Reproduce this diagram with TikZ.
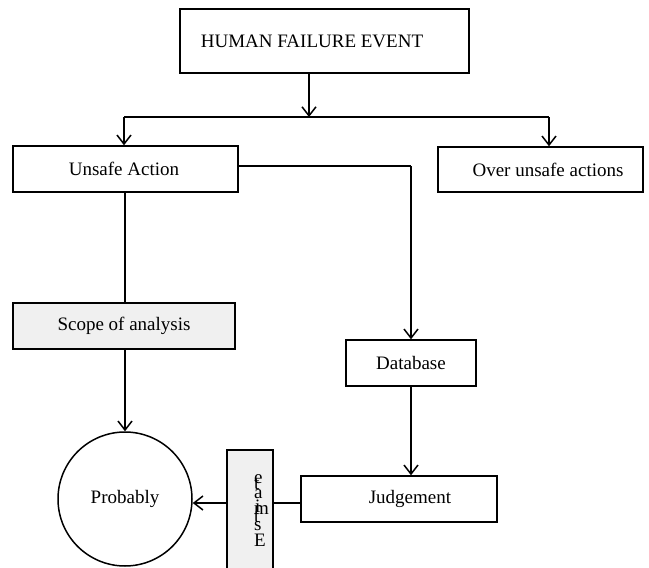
\documentclass[tikz,border=0pt]{standalone}
\usepackage{fontspec}
\setmainfont{Liberation Serif}
\usetikzlibrary{arrows.meta}
\begin{document}
\begin{tikzpicture}[x=1pt,y=-1pt,
  box/.style={draw, line width=1.5pt, rectangle, inner sep=0pt},
  gbox/.style={box, fill=black!6},
  txt/.style={font=\fontsize{19}{22}\selectfont, inner sep=0pt},
  ltr/.style={font=\fontsize{19}{19}\selectfont, inner sep=0pt, anchor=base west},
  ln/.style={line width=1.5pt},
  arr/.style={line width=1.5pt, -{Straight Barb[length=9pt,width=14pt,line width=1.5pt]}}]
\useasboundingbox (0,0) rectangle (649,568);
% boxes
\node[box, minimum width=289pt, minimum height=64pt] (hfe) at (324.5,41) {};
\node[txt] (hfet) at (312,41) {HUMAN FAILURE EVENT};
\node[box, minimum width=225pt, minimum height=46pt] (unsafe) at (125.5,169) {};
\node[txt] (unsafet) at (124,169) {Unsafe Action};
\node[box, minimum width=205pt, minimum height=45pt] (over) at (540.5,169.5) {};
\node[txt] (overt) at (548,169.5) {Over unsafe actions};
\node[gbox, minimum width=222pt, minimum height=46pt] (scope) at (124,326) {};
\node[txt] (scopet) at (124,326) {Scope of analysis};
\node[box, minimum width=130pt, minimum height=46pt] (db) at (411,363) {};
\node[txt] (dbt) at (411,363) {Database};
\node[box, minimum width=196pt, minimum height=46pt] (judg) at (399,499) {};
\node[txt] (judgt) at (410,499) {Judgement};
\node[gbox, minimum width=46pt, minimum height=122pt] (est) at (250,511) {};
\node[box, circle, minimum size=134pt] (circ) at (125,499) {};
\node[txt] (circt) at (125,499) {Probably};
% stacked letters of Estimate (overlapping, as printed)
\node[ltr] (l1) at (254,483) {e};
\node[ltr] (l2) at (254,489) {t};
\node[ltr] (l3) at (254,498) {a};
\node[ltr] (l4) at (254,514) {m};
\node[ltr] (l5) at (255,512) {i};
\node[ltr] (l6) at (254,522) {t};
\node[ltr] (l7) at (254,530) {s};
\node[ltr] (l8) at (254,546) {E};
% junction coordinates
\coordinate (j) at (309,117);
\coordinate (jl) at (124,117);
\coordinate (jr) at (549,117);
\coordinate (dl) at (125,200);
\coordinate (dbc) at (411,166);
\coordinate (ey) at (0,503);
% connectors
\draw[arr] (hfe.south -| j) -- (j);
\draw[ln] (jl) -- (jr);
\draw[arr] (jl) -- (unsafe.north -| jl);
\draw[arr] (jr) -- (over.north -| jr);
\draw[ln] (unsafe.south -| dl) -- (scope.north -| dl);
\draw[arr] (scope.south -| dl) -- (circ.north -| dl);
\draw[ln] (unsafe.east |- dbc) -- (dbc);
\draw[arr] (dbc) -- (db.north -| dbc);
\draw[arr] (db.south -| dbc) -- (judg.north -| dbc);
\draw[ln] (judg.west |- ey) -- (est.east |- ey);
\draw[arr] (est.west |- ey) -- (circ.east |- ey);
\end{tikzpicture}
\end{document}
